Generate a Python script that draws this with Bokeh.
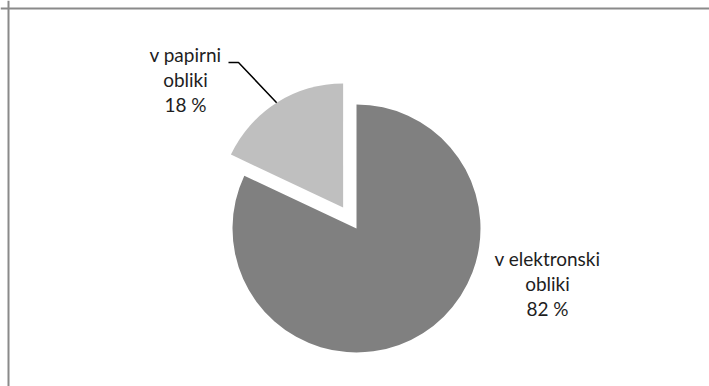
import math
from bokeh.plotting import figure
from bokeh.models import Range1d, Span, ColumnDataSource
from bokeh.core.properties import value
from bokeh.embed import file_html
from bokeh.resources import INLINE

# ---- data ----
categories = ["v papirni\nobliki", "v elektronski\nobliki"]
percents = [18, 82]
colors = ["#bfbfbf", "#808080"]

W, H = 709, 386
p = figure(width=W, height=H, output_backend="svg", toolbar_location=None,
           x_range=Range1d(0, W), y_range=Range1d(0, H), min_border=0,
           outline_line_color=None, background_fill_color="white",
           border_fill_color="white")
p.axis.visible = False
p.grid.visible = False

cx, cy, r = 356, 158, 124
explode = [25, 0]

# angles: start at 12 o'clock, first slice goes counter-clockwise
start = math.pi / 2
starts, ends = [], []
acc = start
for pct in percents:
    starts.append(acc)
    acc += pct / 100 * 2 * math.pi
    ends.append(acc)

xs, ys, mids = [], [], []
for s, e, ex in zip(starts, ends, explode):
    m = (s + e) / 2
    mids.append(m)
    xs.append(cx + ex * math.cos(m))
    ys.append(cy + ex * math.sin(m))

src = ColumnDataSource(dict(x=xs, y=ys, s=starts, e=ends, c=colors))
p.wedge(x="x", y="y", radius=r, start_angle="s", end_angle="e",
        fill_color="c", line_color=None, source=src)

# labels
labels = [f"{c}\n{v} %" for c, v in zip(categories, percents)]
lx = [185, 547]
ly = [307, 103]
p.text(x=lx, y=ly, text=labels, text_align="center", text_baseline="middle",
       text_font=value("Lato"), text_font_size="19px", text_color="#1e1e1e",
       text_line_height=1.1)

# leader line for the small slice
m0 = mids[0]
ex0 = xs[0] + r * math.cos(m0)
ey0 = ys[0] + r * math.sin(m0)
p.line(x=[228, 238, ex0], y=[324, 324, ey0], line_color="black", line_width=1.5)

# chart border (top + left visible)
p.add_layout(Span(location=8, dimension="height", line_color="#8a8a8a", line_width=2))
p.add_layout(Span(location=H - 8, dimension="width", line_color="#8a8a8a", line_width=2))

open("out.html", "w").write(file_html(p, INLINE))
